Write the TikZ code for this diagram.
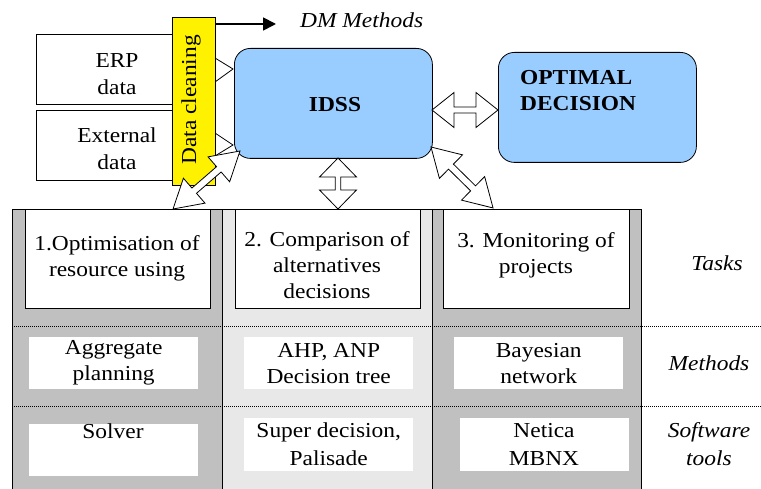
\documentclass[tikz,border=0pt]{standalone}
\usepackage{fontspec}
\setmainfont[FakeStretch=1.1]{Liberation Serif}
\usetikzlibrary{arrows.meta}
\definecolor{idssblue}{HTML}{99CCFF}
\definecolor{colgray}{HTML}{C0C0C0}
\definecolor{collight}{HTML}{E8E8E8}
\tikzset{
  rectbox/.style={draw, line width=0.8pt, fill=white, inner sep=0pt, anchor=north west},
  whitebox/.style={fill=white, inner sep=0pt, anchor=north west},
  roundbox/.style={draw, line width=0.8pt, fill=idssblue, rounded corners=16pt, inner sep=0pt, anchor=north west},
  txt/.style={inner sep=0pt, align=center, font=\fontsize{21.3}{26}\selectfont},
  lbl/.style={inner sep=0pt, align=center, font=\fontsize{21.3}{28}\selectfont\itshape},
  sepline/.style={line width=0.9pt, dash pattern=on 1pt off 1pt},
  chevron/.style={line width=0.8pt},
  pics/dbl/.style n args={4}{code={
    \draw[line width=0.8pt, fill=white, line join=miter]
      (0,0) -- (#2,#3) -- (#2,#4) -- ({#1-#2},#4) -- ({#1-#2},#3) -- (#1,0)
      -- ({#1-#2},-#3) -- ({#1-#2},-#4) -- (#2,-#4) -- (#2,-#3) -- cycle;
  }}
}
\begin{document}
\begin{tikzpicture}[x=1pt,y=-1pt]
\useasboundingbox (0,0) rectangle (761,489);

% ---------- table background ----------
\fill[colgray] (12,209) rectangle (222,489);
\fill[collight] (222,209) rectangle (432,489);
\fill[colgray] (432,209) rectangle (641,489);
\draw[line width=0.8pt] (12,489) -- (12,209) -- (641,209) -- (641,489);
\draw[line width=0.8pt] (222,209) -- (222,489);
\draw[line width=0.8pt] (432,209) -- (432,489);
\draw[sepline] (12,326) -- (761,326);
\draw[sepline] (12,406) -- (761,406);

% ---------- task boxes ----------
\node[rectbox, minimum width=185pt, minimum height=99pt] (task1) at (25,209) {};
\node[rectbox, minimum width=185pt, minimum height=99pt] (task2) at (235,209) {};
\node[rectbox, minimum width=186pt, minimum height=99pt] (task3) at (443,209) {};
\node[txt] (task1t) at (117,258) {1.Optimisation of\\resource using};
\node[txt] (task2t) at (327,265) {2. Comparison of\\alternatives\\decisions};
\node[txt] (task3t) at (536,255) {3. Monitoring of\\projects};

% ---------- method boxes ----------
\node[whitebox, minimum width=169pt, minimum height=52pt] (meth1) at (29,337) {};
\node[whitebox, minimum width=169pt, minimum height=52pt] (meth2) at (244,337) {};
\node[whitebox, minimum width=169pt, minimum height=52pt] (meth3) at (454,337) {};
\node[txt] (meth1t) at (meth1.center) {Aggregate\\planning};
\node[txt] (meth2t) at (meth2.center) {AHP, ANP\\Decision tree};
\node[txt] (meth3t) at (meth3.center) {Bayesian\\network};

% ---------- software boxes ----------
\node[whitebox, minimum width=169pt, minimum height=52pt] (soft1) at (29,424) {};
\node[whitebox, minimum width=169pt, minimum height=53pt] (soft2) at (244,418) {};
\node[whitebox, minimum width=169pt, minimum height=53pt] (soft3) at (460,418) {};
\node[txt] (soft1t) at (113,431) {Solver};
\node[txt, font=\fontsize{21.3}{28}\selectfont] (soft2t) at (soft2.center) {Super decision,\\Palisade};
\node[txt, font=\fontsize{21.3}{28}\selectfont] (soft3t) at (544,444) {Netica\\MBNX};

% ---------- row labels ----------
\node[lbl] (tasks) at (717,263) {Tasks};
\node[lbl] (methods) at (709,363) {Methods};
\node[lbl] (software) at (709,444) {Software\\tools};

% ---------- data sources ----------
\node[rectbox, minimum width=162pt, minimum height=70pt] (erp) at (36,34) {};
\node[rectbox, minimum width=162pt, minimum height=70pt] (ext) at (36,110) {};
\node[txt, font=\fontsize{21.3}{27}\selectfont] (erpt) at (117,74) {ERP\\data};
\node[txt, font=\fontsize{21.3}{27}\selectfont] (extt) at (117,149) {External\\data};

% ---------- IDSS and optimal decision ----------
\node[roundbox, minimum width=198pt, minimum height=110pt] (idss) at (234,48) {};
\node[txt, font=\fontsize{21.3}{26}\selectfont\bfseries] (idsst) at (335,105) {IDSS};
\node[roundbox, minimum width=198pt, minimum height=110pt] (opt) at (498,52) {};
\node[inner sep=0pt, align=left, anchor=west, font=\fontsize{21.3}{26}\selectfont\bfseries] (optt) at (520,91) {OPTIMAL\\DECISION};

% ---------- data cleaning ----------
\node[draw, fill=yellow, line width=0.8pt, inner sep=0pt, anchor=north west,
      minimum width=43pt, minimum height=168pt] (clean) at (172,17) {};
\node[txt, rotate=90] (cleant) at (191,100) {Data cleaning};

\coordinate (c1a) at (215,58); \coordinate (c1t) at (233,69); \coordinate (c1b) at (215,82);
\coordinate (c2a) at (215,133); \coordinate (c2t) at (233,145); \coordinate (c2b) at (215,156);
\draw[chevron] (c1a) -- (c1t) -- (c1b);
\draw[chevron] (c2a) -- (c2t) -- (c2b);

% ---------- DM methods ----------
\coordinate (dms) at (clean.north east |- 0,24);
\coordinate (dme) at (276,24);
\draw[line width=1.8pt, -{Triangle[length=13pt,width=13pt]}] (dms) -- (dme);
\node[lbl, anchor=west] (dm) at (300,20) {DM Methods};

% ---------- block double arrows ----------
\coordinate (h1) at (432,110); \coordinate (h2) at (498,110);
\pic at (h1) {dbl={66}{22}{17.5}{3}};
\coordinate (v1) at (338,158); \coordinate (v2) at (338,209);
\pic[rotate=-90] at (v1) {dbl={51}{19}{18.5}{2.7}};
\coordinate (l1) at (240,151); \coordinate (l2) at (173,209);
\pic[rotate=220.9] at (l1) {dbl={88.6}{28}{16.5}{3.5}};
\coordinate (r1) at (431,147); \coordinate (r2) at (493,208);
\pic[rotate=-44.5] at (r1) {dbl={87}{28}{16.5}{3.5}};
\end{tikzpicture}
\end{document}
